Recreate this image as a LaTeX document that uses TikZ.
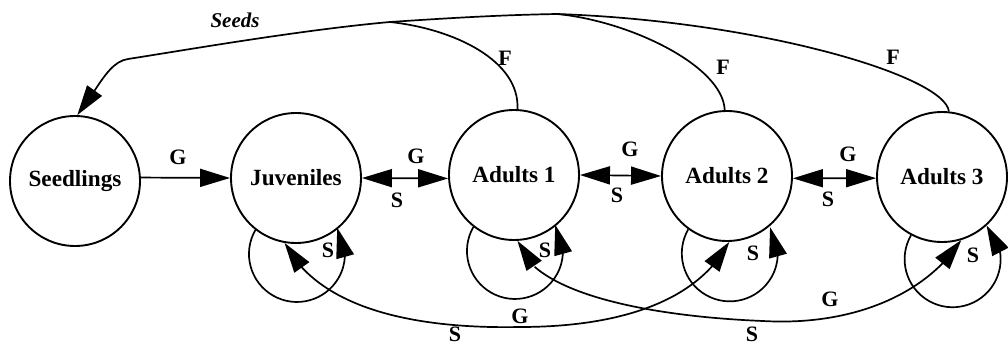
\documentclass[tikz,border=0pt]{standalone}
\usepackage{fontspec}
\setmainfont{Liberation Serif}
\usetikzlibrary{arrows.meta,bending}
\begin{document}
\begin{tikzpicture}[x=1pt,y=1pt,
  state/.style={circle,draw,line width=1.9pt,minimum size=130pt,inner sep=0pt,font=\bfseries\fontsize{23.2}{28}\selectfont},
  lbl/.style={font=\bfseries\fontsize{22}{26}\selectfont,inner sep=0pt},
  conn/.style={line width=1.7pt},
  bigtri/.tip={Triangle[length=30pt,width=18pt]},
  arr/.style={conn,-bigtri},
  darr/.style={conn,bigtri-bigtri}]
\useasboundingbox (0,0) rectangle (1008,351);

% states
\node[state] (S) at (75,170) {Seedlings};
\node[state] (J) at (296,173) {Juveniles};
\node[state] (A1) at (514,176) {Adults 1};
\node[state] (A2) at (727,175) {Adults 2};
\node[state] (A3) at (942,174) {Adults 3};

% horizontal transitions
\draw[arr] (S.3) -- (J.180);
\draw[darr] (J.east) -- (A1.183);
\draw[darr] (A1.east) -- (A2.west);
\draw[darr] (A2.-2) -- (A3.181);
\node[lbl] (g1) at (178,194) {G};
\node[lbl] (g2) at (416,195) {G};
\node[lbl] (s2) at (397,151) {S};
\node[lbl] (g3) at (630,202) {G};
\node[lbl] (s3) at (617,156) {S};
\node[lbl] (g4) at (848,197) {G};
\node[lbl] (s4) at (828,152) {S};

% self loops
\draw[arr] (J.-128) arc[start angle=150,end angle=393,radius=48];
\draw[arr] (A1.-128) arc[start angle=150,end angle=393,radius=48];
\draw[arr] (A2.-126) arc[start angle=150,end angle=393,radius=48];
\draw[arr] (A3.-118) arc[start angle=150,end angle=405,radius=48];
\node[lbl] (ls1) at (328,101) {S};
\node[lbl] (ls2) at (545,101) {S};
\node[lbl] (ls3) at (753,98) {S};
\node[lbl] (ls4) at (973,96) {S};

% long bottom transitions
\draw[darr] (J.-100) .. controls (320,40) and (420,22) .. (520,24)
  .. controls (610,24) and (695,45) .. (A2.-88);
\draw[darr] (A1.-87) .. controls (530,60) and (640,35) .. (763,30)
  .. controls (850,25) and (925,55) .. (A3.-73);
\node[lbl] (bs1) at (455,17) {S};
\node[lbl] (bg1) at (520,35) {G};
\node[lbl] (bg2) at (830,52) {G};
\node[lbl] (bs2) at (752,17) {S};

% seeds / fecundity
\coordinate (m2) at (557,337);
\coordinate (m1) at (390,329);
\coordinate (k) at (128,292);
\draw[arr] (A3.84) .. controls (945,275) and (760,330) .. (m2)
  .. controls (500,336) and (450,333) .. (m1)
  .. controls (300,321) and (180,300) .. (k)
  .. controls (108,289) and (98,262) .. (S.88);
\draw[conn] (A2.92) .. controls (723,285) and (630,330) .. (m2);
\draw[conn] (A1.87) .. controls (520,290) and (455,322) .. (m1);
\node[lbl] (f1) at (505,293) {F};
\node[lbl] (f2) at (723,284) {F};
\node[lbl] (f3) at (893,294) {F};
\node[font=\bfseries\itshape\fontsize{21}{25}\selectfont,inner sep=0pt] (seeds) at (235,331) {Seeds};
\end{tikzpicture}
\end{document}
